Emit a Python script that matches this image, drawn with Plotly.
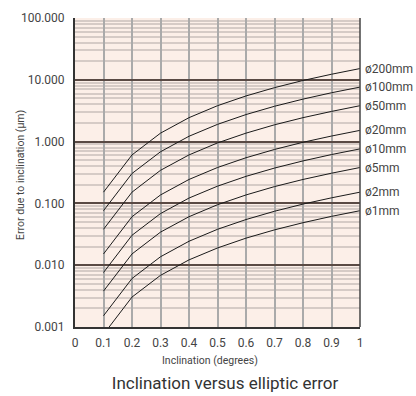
import math
import plotly.graph_objects as go

inclination = [0.1, 0.2, 0.3, 0.4, 0.5, 0.6, 0.7, 0.8, 0.9, 1.0]

series_names = ["ø200mm", "ø100mm", "ø50mm", "ø20mm", "ø10mm", "ø5mm", "ø2mm", "ø1mm"]
err_200 = [0.152, 0.609, 1.37, 2.44, 3.81, 5.48, 7.46, 9.75, 12.3, 15.2]
err_100 = [0.0762, 0.305, 0.685, 1.22, 1.90, 2.74, 3.73, 4.87, 6.17, 7.62]
err_50 = [0.0381, 0.152, 0.343, 0.609, 0.952, 1.37, 1.87, 2.44, 3.08, 3.81]
err_20 = [0.0152, 0.0609, 0.137, 0.244, 0.381, 0.548, 0.746, 0.975, 1.23, 1.52]
err_10 = [0.00762, 0.0305, 0.0685, 0.122, 0.190, 0.274, 0.373, 0.487, 0.617, 0.762]
err_5 = [0.00381, 0.0152, 0.0343, 0.0609, 0.0952, 0.137, 0.187, 0.244, 0.308, 0.381]
err_2 = [0.00152, 0.00609, 0.0137, 0.0244, 0.0381, 0.0548, 0.0746, 0.0975, 0.123, 0.152]
err_1 = [0.00076, 0.00305, 0.00685, 0.0122, 0.0190, 0.0274, 0.0373, 0.0487, 0.0617, 0.0762]
series_values = [err_200, err_100, err_50, err_20, err_10, err_5, err_2, err_1]

x_ticks = [0, 0.1, 0.2, 0.3, 0.4, 0.5, 0.6, 0.7, 0.8, 0.9, 1]
x_tick_labels = ["0", "0.1", "0.2", "0.3", "0.4", "0.5", "0.6", "0.7", "0.8", "0.9", "1"]
y_ticks = [0.001, 0.01, 0.1, 1, 10, 100]
y_tick_labels = ["0.001", "0.010", "0.100", "1.000", "10.000", "100.000"]

FONT = "Roboto, Open Sans, Arial, sans-serif"
TXT = "#444444"
W, H = 416, 396
L, R, T, B = 75, 56, 18, 69
PW, PH = W - L - R, H - T - B

fig = go.Figure()
for name, vals in zip(series_names, series_values):
    fig.add_trace(go.Scatter(x=inclination, y=vals, mode="lines", name=name,
                             line=dict(color="#1a1a1a", width=1), showlegend=False))
    fig.add_annotation(x=inclination[-1], y=math.log10(vals[-1]), yref="y", xref="x",
                       text=name, showarrow=False, xanchor="left", yanchor="middle",
                       xshift=3, font=dict(family=FONT, size=12, color=TXT))

# axis titles
fig.add_annotation(xref="paper", yref="paper", x=(20 - L) / PW, y=(H - B - 175) / PH,
                   text="Error due to inclination (µm)", textangle=-90, showarrow=False,
                   xanchor="center", yanchor="middle",
                   font=dict(family=FONT, size=10.5, color=TXT))
fig.add_annotation(xref="paper", yref="paper", x=(210 - L) / PW, y=-(360 - (H - B)) / PH,
                   text="Inclination (degrees)", showarrow=False,
                   xanchor="center", yanchor="middle",
                   font=dict(family=FONT, size=10.5, color=TXT))

fig.update_layout(
    width=W, height=H,
    margin=dict(l=L, r=R, t=T, b=B, autoexpand=False),
    paper_bgcolor="white",
    plot_bgcolor="#fcefe8",
    font=dict(family=FONT, color=TXT, size=12),
    title=dict(text="Inclination versus elliptic error", x=(219 - L) / PW * PW / W + L / W,
               xanchor="center", xref="paper", y=13 / H, yanchor="middle",
               font=dict(family=FONT, size=17, color="#333333")),
)

fig.update_xaxes(range=[0, 1], tickvals=x_ticks, ticktext=x_tick_labels,
                 showgrid=True, gridcolor="#aaaaaa", gridwidth=2,
                 showline=True, linecolor="#333333", linewidth=2, mirror=False,
                 ticks="", zeroline=False, automargin=False, ticklabelstandoff=4,
                 tickfont=dict(family=FONT, size=12, color=TXT))
fig.update_yaxes(type="log", range=[-3, 2], tickvals=y_ticks, ticktext=y_tick_labels,
                 showgrid=True, gridcolor="#5a4a44", gridwidth=1.5,
                 minor=dict(dtick="D1", showgrid=True, gridcolor="#d6cbc6", gridwidth=1.5,
                            ticks=""),
                 showline=True, linecolor="#333333", linewidth=2,
                 ticks="", zeroline=False, ticklabelstandoff=6, automargin=False,
                 tickfont=dict(family=FONT, size=12, color=TXT))

# right border of the plot frame
fig.add_shape(type="line", xref="paper", yref="paper", x0=1, x1=1, y0=0, y1=1,
              line=dict(color="#444444", width=1.5), layer="above")

fig.write_html("out.html", config={"displayModeBar": False},
               post_script="document.body.style.margin='0';document.body.style.overflow='hidden';")
